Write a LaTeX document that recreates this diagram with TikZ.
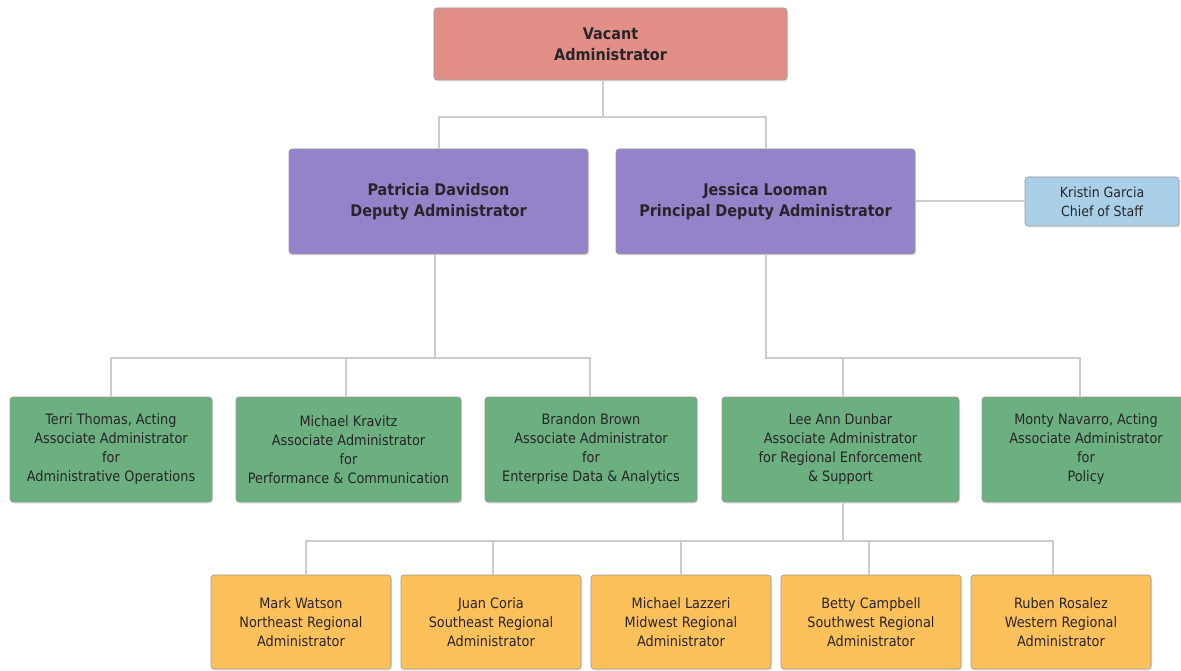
\documentclass[tikz,border=0pt]{standalone}
\usepackage{fontspec}
\setmainfont{DejaVu Sans Condensed}
\usepackage{tikz}
\usetikzlibrary{positioning,shadows}
\definecolor{vacred}{RGB}{226,143,135}
\definecolor{deppurple}{RGB}{148,131,201}
\definecolor{staffblue}{RGB}{169,208,230}
\definecolor{assocgreen}{RGB}{107,176,126}
\definecolor{regyellow}{RGB}{253,193,92}
\definecolor{linegray}{RGB}{204,204,204}
\definecolor{inkdark}{RGB}{40,36,42}
\tikzset{
    %Define base style for boxes
    box/.style={
           rectangle,
           rounded corners=3pt,
           draw=black!40, line width=0.6pt,
           outer sep=0pt,
           align=center,
           text=inkdark,
           drop shadow={shadow xshift=1pt,shadow yshift=-1.5pt,opacity=.2}},
    chief/.style={
           box,
           fill=vacred,
           minimum width=353pt,
           minimum height=72pt,
           font=\fontsize{16}{21}\selectfont\bfseries},
    deputy/.style={
           box,
           fill=deppurple,
           minimum width=299pt,
           minimum height=105pt,
           font=\fontsize{16}{21}\selectfont\bfseries},
    staff/.style={
           box,
           fill=staffblue,
           minimum width=154pt,
           minimum height=49pt,
           font=\fontsize{14}{19}\selectfont},
    assoc/.style={
           box,
           fill=assocgreen,
           minimum height=105pt,
           font=\fontsize{14.3}{19}\selectfont},
    region/.style={
           box,
           fill=regyellow,
           minimum width=180pt,
           minimum height=94pt,
           font=\fontsize{14.3}{19}\selectfont},
    % Define connector style
    link/.style={
           draw=linegray,
           line width=2pt}
}
\begin{document}
\begin{tikzpicture}[x=1pt,y=-1pt,node distance=24pt]
\useasboundingbox (0,0) rectangle (1181,671);
\fill[white] (0,0) rectangle (1181,671);
\node[chief](vac) at (610.5,44){Vacant\\Administrator};
\node[deputy](pat) at (438.5,201.5){Patricia Davidson\\Deputy Administrator};
\node[deputy](jes) at (765.5,201.5){Jessica Looman\\Principal Deputy Administrator};
\node[staff](kri) at (1102,201.5){Kristin Garcia\\Chief of Staff};
\node[assoc, minimum width=202pt](terri) at (111,449.5){Terri Thomas, Acting\\Associate Administrator\\for\\Administrative Operations};
\node[assoc, minimum width=225pt, right=of terri](kravitz){Michael Kravitz\\Associate Administrator\\for\\Performance \& Communication};
\node[assoc, minimum width=212pt, right=of kravitz](brown){Brandon Brown\\Associate Administrator\\for\\Enterprise Data \& Analytics};
\node[assoc, minimum width=237pt, right=25pt of brown](lee){Lee Ann Dunbar\\Associate Administrator\\for Regional Enforcement\\\& Support};
\node[assoc, minimum width=208pt, right=23pt of lee](monty){Monty Navarro, Acting\\Associate Administrator\\for\\Policy};
\node[region](mark) at (301,622){Mark Watson\\Northeast Regional\\Administrator};
\node[region, right=10pt of mark](coria){Juan Coria\\Southeast Regional\\Administrator};
\node[region, right=10pt of coria](lazzeri){Michael Lazzeri\\Midwest Regional\\Administrator};
\node[region, right=10pt of lazzeri](campbell){Betty Campbell\\Southwest Regional\\Administrator};
\node[region, right=10pt of campbell](rosalez){Ruben Rosalez\\Western Regional\\Administrator};
% connectors
\foreach \n in {pat,jes}
  \draw[link] ([xshift=-8pt]vac.south) -- ++(0,37) -| (\n.north);
\draw[link] (jes.east) -- (kri.west);
\foreach \n/\dx in {terri/0,kravitz/-3,brown/-1}
  \draw[link] ([xshift=-4pt]pat.south) -- ++(0,104) -| ([xshift=\dx pt]\n.north);
\foreach \n/\dx in {lee/2,monty/-6}
  \draw[link] (jes.south) -- ++(0,104) -| ([xshift=\dx pt]\n.north);
\foreach \n/\dx in {mark/5,coria/2,lazzeri/0,campbell/-2,rosalez/-8}
  \draw[link] ([xshift=2pt]lee.south) -- ++(0,39) -| ([xshift=\dx pt]\n.north);
\end{tikzpicture}
\end{document}
